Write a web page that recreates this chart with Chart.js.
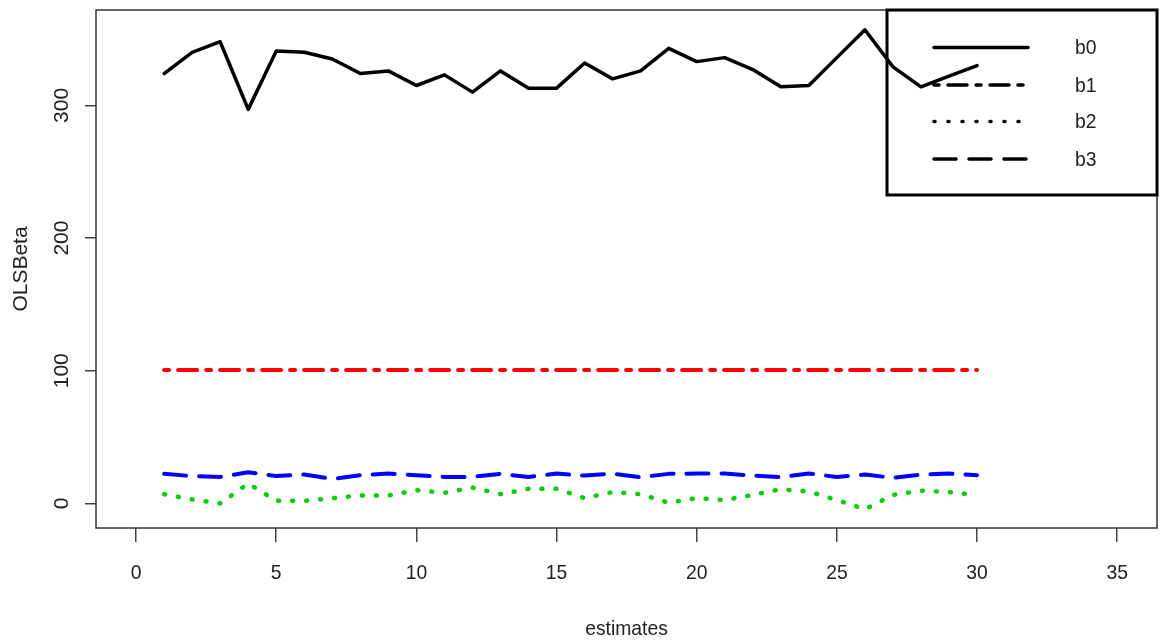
<!DOCTYPE html>
<html>
<head>
<meta charset="utf-8">
<script src="https://cdn.jsdelivr.net/npm/chart.js@4.4.1/dist/chart.umd.min.js"></script>
<style>
  html, body { margin: 0; padding: 0; background: #fff; }
  #wrap { width: 1161px; height: 644px; }
</style>
</head>
<body>
<div id="wrap"><canvas id="olsPlot" width="1161" height="644"></canvas></div>
<script>
// estimate index (x) and the four OLS coefficient series
var estimates = [1, 2, 3, 4, 5, 6, 7, 8, 9, 10, 11, 12, 13, 14, 15,
                 16, 17, 18, 19, 20, 21, 22, 23, 24, 25, 26, 27, 28, 29, 30];
var b0 = [324, 340, 348, 297, 341, 340, 335, 324, 326, 315, 323, 310, 326, 313, 313,
          332, 320, 326, 343, 333, 336, 327, 314, 315, 336, 357, 329, 314, 322, 330];
var b1 = [100.5, 100.5, 100.5, 100.5, 100.5, 100.5, 100.5, 100.5, 100.5, 100.5,
          100.5, 100.5, 100.5, 100.5, 100.5, 100.5, 100.5, 100.5, 100.5, 100.5,
          100.5, 100.5, 100.5, 100.5, 100.5, 100.5, 100.5, 100.5, 100.5, 100.5];
var b2 = [7, 3, 0, 15, 2, 2, 4, 6, 6, 10, 8, 12, 7, 11, 11,
          4, 8.5, 7, 0.6, 4, 2.6, 6.4, 10.7, 9, 2.6, -4.4, 6.4, 9.7, 8.5, 6.4];
var b3 = [22.3, 20.6, 20, 23.5, 20.6, 21.8, 18.5, 21.3, 22.5, 21.3, 20, 20, 22.3, 20, 22.5,
          21, 22.5, 19.8, 22.3, 22.5, 22.5, 21, 19.8, 22.5, 20, 21.8, 19.3, 21.8, 22.5, 21.3];

var seriesNames = ['b0', 'b1', 'b2', 'b3'];
var xTickValues = [0, 5, 10, 15, 20, 25, 30, 35];
var yTickValues = [0, 100, 200, 300];
var xTitle = 'estimates';
var yTitle = 'OLSBeta';

var FONT = '21px "Liberation Sans", Arial, sans-serif';
var SQUISH = 0.92;   // the picture is a bit narrower than it is tall

var toPoints = function(vals) {
	return vals.map(function(v, i) { return { x: estimates[i], y: v }; });
};

var drawText = function(ctx, s, x, y, rot) {
	ctx.save();
	ctx.translate(x, y);
	ctx.scale(SQUISH, 1);
	ctx.rotate(rot);
	ctx.fillText(s, 0, 0);
	ctx.restore();
};

// R style frame, tick labels, axis titles and legend
var rPlot = {
	id: 'rPlot',
	afterDraw: function(chart) {
		var ctx = chart.ctx;
		var a = chart.chartArea;
		var xs = chart.scales.x, ys = chart.scales.y;
		ctx.save();
		ctx.strokeStyle = '#333';
		ctx.lineWidth = 1.5;
		ctx.strokeRect(a.left, a.top, a.right - a.left, a.bottom - a.top);

		ctx.fillStyle = '#222';
		ctx.font = FONT;
		ctx.textAlign = 'center';
		ctx.textBaseline = 'middle';
		xs.ticks.forEach(function(t) {
			drawText(ctx, String(t.value), xs.getPixelForValue(t.value), 573, 0);
		});
		ys.ticks.forEach(function(t) {
			drawText(ctx, String(t.value), 63, ys.getPixelForValue(t.value), -Math.PI / 2);
		});
		drawText(ctx, xTitle, (a.left + a.right) / 2, 629, 0);
		drawText(ctx, yTitle, 22, (a.top + a.bottom) / 2, -Math.PI / 2);

		// legend
		var lx = 887, ly = a.top, lw = a.right - 887, lh = 185;
		ctx.strokeStyle = '#000';
		ctx.lineWidth = 3;
		ctx.strokeRect(lx, ly, lw, lh);
		var rows = [47.5, 85, 121.5, 159];
		chart.data.datasets.forEach(function(ds, i) {
			ctx.save();
			ctx.strokeStyle = '#000';
			ctx.lineWidth = 3.5;
			ctx.lineCap = 'round';
			ctx.setLineDash(ds.borderDash || []);
			ctx.beginPath();
			ctx.moveTo(934, rows[i]);
			ctx.lineTo(1028, rows[i]);
			ctx.stroke();
			ctx.restore();
			ctx.textAlign = 'left';
			drawText(ctx, ds.label, 1075, rows[i] + 1, 0);
		});
		ctx.restore();
	}
};

var lineSet = function(label, vals, colour, dash, width) {
	return {
		label: label,
		data: toPoints(vals),
		borderColor: colour,
		borderWidth: width,
		borderDash: dash,
		borderCapStyle: 'round',
		borderJoinStyle: 'round',
		pointRadius: 0,
		tension: 0,
		fill: false
	};
};

var config = {
	type: 'line',
	data: {
		datasets: [
			lineSet(seriesNames[0], b0, '#000000', [], 3.5),
			lineSet(seriesNames[1], b1, '#ff0000', [5, 9, 19, 9], 4),
			lineSet(seriesNames[2], b2, '#00cd00', [1, 13], 4.5),
			lineSet(seriesNames[3], b3, '#0000ff', [22, 13], 4)
		]
	},
	options: {
		responsive: false,
		animation: false,
		devicePixelRatio: 1,
		layout: { padding: { left: 0, top: 10, right: 4, bottom: 0 } },
		plugins: { legend: { display: false }, tooltip: { enabled: false } },
		scales: {
			x: {
				type: 'linear',
				min: -1.43,
				max: 36.42,
				border: { display: false },
				grid: { drawOnChartArea: false, drawTicks: true, tickLength: 14, color: '#444', lineWidth: 1.5 },
				ticks: { display: false },
				afterBuildTicks: function(s) {
					s.ticks = xTickValues.map(function(v) { return { value: v }; });
				},
				afterFit: function(s) { s.height = 116; }
			},
			y: {
				min: -18.5,
				max: 371.9,
				border: { display: false },
				grid: { drawOnChartArea: false, drawTicks: true, tickLength: 11, color: '#444', lineWidth: 1.5 },
				ticks: { display: false },
				afterBuildTicks: function(s) {
					s.ticks = yTickValues.map(function(v) { return { value: v }; });
				},
				afterFit: function(s) { s.width = 96; }
			}
		}
	},
	plugins: [rPlot]
};

var ctx = document.getElementById('olsPlot').getContext('2d');
window.olsChart = new Chart(ctx, config);
</script>
</body>
</html>
